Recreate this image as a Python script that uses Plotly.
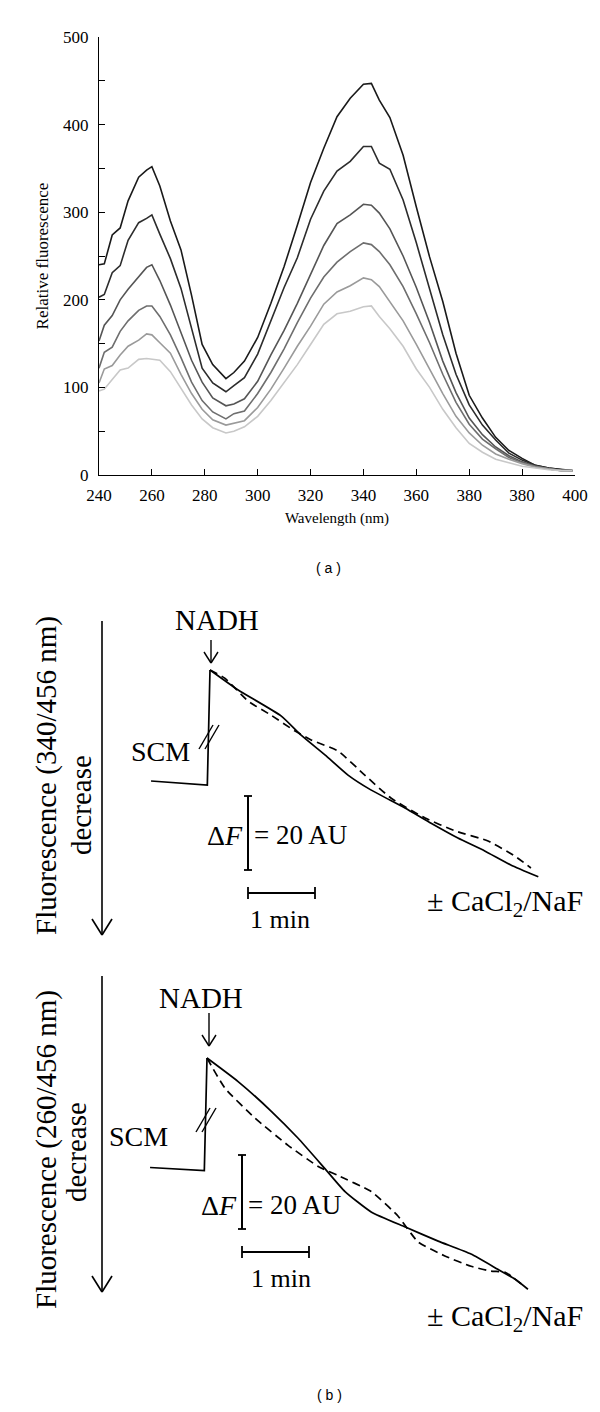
import plotly.graph_objects as go

W, H = 600, 1412
SERIF = "Liberation Serif, Times New Roman, serif"

# ---- (a) emission spectra ----
wavelength = [240, 242, 245, 248, 251, 255, 258, 260, 263, 267, 271, 275, 279, 283, 288, 291, 295,
              300, 305, 310, 315, 320, 325, 330, 335, 340, 343, 346, 350, 355, 360, 365, 370, 375,
              380, 385, 390, 395, 400, 405, 410, 415, 419]
spec_1 = [240, 241, 274, 282, 313, 340, 348, 352, 330, 290, 257, 205, 149, 126, 110, 117, 130, 157,
          196, 238, 285, 334, 373, 409, 430, 446, 447, 428, 408, 365, 306, 249, 198, 139, 91, 65,
          43, 28, 19, 11, 8, 6, 5]
spec_2 = [203, 206, 231, 239, 268, 288, 293, 297, 275, 247, 213, 166, 122, 105, 95, 102, 111, 138,
          176, 214, 248, 292, 324, 347, 358, 375, 375, 356, 349, 314, 265, 211, 160, 115, 80, 57,
          40, 25, 17, 11, 8, 6, 5]
spec_3 = [153, 171, 182, 200, 212, 226, 237, 240, 222, 194, 162, 131, 106, 88, 79, 81, 87, 107,
          137, 165, 196, 230, 262, 287, 297, 309, 308, 299, 281, 250, 214, 174, 130, 94, 65, 46,
          32, 22, 15, 10, 7, 5, 5]
spec_4 = [122, 140, 146, 164, 176, 188, 193, 193, 181, 160, 134, 106, 85, 72, 64, 70, 73, 93,
          117, 144, 174, 202, 226, 243, 255, 265, 263, 255, 240, 215, 184, 151, 115, 83, 58, 41,
          30, 20, 14, 10, 7, 5, 5]
spec_5 = [105, 121, 125, 137, 147, 154, 161, 160, 151, 139, 115, 93, 75, 63, 57, 59, 62, 77,
          98, 122, 147, 170, 195, 209, 216, 225, 223, 215, 198, 176, 149, 121, 93, 67, 48, 34,
          24, 18, 13, 9, 7, 5, 5]
spec_6 = [96, 98, 109, 120, 122, 132, 133, 132, 131, 118, 99, 80, 64, 54, 48, 50, 55, 67,
          85, 105, 126, 149, 172, 184, 187, 192, 193, 181, 167, 147, 121, 100, 75, 54, 36, 26,
          18, 14, 10, 8, 6, 5, 5]
x_tickvals = [240, 260, 280, 300, 320, 340, 360, 380, 400, 420]
x_ticktext = ["240", "260", "280", "300", "320", "340", "360", "380", "380", "400"]

# ---- (b) NADH traces: time (min) after NADH, fluorescence change (AU) ----
t_340_solid = [0, 0.42, 1.06, 1.36, 1.72, 2.06, 2.40, 2.91, 3.30, 3.70, 4.10, 4.49, 4.90]
f_340_solid = [0, -5.4, -12.4, -17.6, -23.0, -28.4, -32.4, -37.3, -41.4, -45.4, -48.9, -52.7, -55.9]
t_340_dash = [0, 0.22, 0.57, 0.91, 1.27, 1.51, 1.91, 2.31, 2.70, 3.21, 3.66, 4.15, 4.55, 4.79]
f_340_dash = [0, -2.2, -8.4, -12.2, -16.5, -18.9, -21.9, -28.4, -34.6, -40.0, -43.5, -46.2, -50.3, -53.5]
t_340_scm = [-0.88, -0.04, 0]
f_340_scm = [-30.0, -31.1, 0]

t_260_solid = [0, 0.46, 0.96, 1.36, 1.76, 2.06, 2.45, 2.96, 3.45, 3.94, 4.34, 4.60, 4.79]
f_260_solid = [0, -6.3, -14.4, -21.7, -29.9, -36.1, -41.6, -45.7, -49.5, -53.0, -57.1, -59.8, -62.5]
t_260_dash = [0, 0.27, 0.72, 1.21, 1.66, 1.96, 2.45, 2.85, 3.15, 3.55, 3.94, 4.24, 4.45, 4.72]
f_260_dash = [0, -8.2, -16.3, -23.6, -29.3, -31.8, -36.1, -42.7, -49.7, -53.5, -56.3, -57.6, -57.9, -61.5]
t_260_scm = [-0.85, -0.04, 0]
f_260_scm = [-29.6, -30.4, 0]

PX_MIN, PX_AU = 67, 3.7  # drawing scale of panel (b)


def px(c):
    return c / W


def py(r):
    return 1 - r / H


fig = go.Figure()

grays = ["#1a1a1a", "#2c2c2c", "#555555", "#6e6e6e", "#9a9a9a", "#c8c8c8"]
for vals, col in zip([spec_1, spec_2, spec_3, spec_4, spec_5, spec_6], grays):
    fig.add_trace(go.Scatter(x=wavelength, y=vals, mode="lines",
                             line=dict(color=col, width=1.6), xaxis="x", yaxis="y"))

# panel (b) sub-panels: (axis suffix, pixel origin of the NADH peak, pixel rows of domain, data)
subpanels = [
    ("2", (202, 662), (580, 960), t_340_solid, f_340_solid, t_340_dash, f_340_dash, t_340_scm, f_340_scm),
    ("3", (199, 1050), (960, 1340), t_260_solid, f_260_solid, t_260_dash, f_260_dash, t_260_scm, f_260_scm),
]
layout_axes = {}
for sfx, (ox, oy), (r0, r1), ts, fs, td, fd, tc, fc in subpanels:
    xa, ya = "x" + sfx, "y" + sfx
    fig.add_trace(go.Scatter(x=tc, y=fc, mode="lines", line=dict(color="black", width=1.7),
                             xaxis=xa, yaxis=ya))
    fig.add_trace(go.Scatter(x=ts, y=fs, mode="lines",
                             line=dict(color="black", width=1.7, shape="spline", smoothing=0.5),
                             xaxis=xa, yaxis=ya))
    fig.add_trace(go.Scatter(x=td, y=fd, mode="lines",
                             line=dict(color="black", width=1.7, dash="8px,5px",
                                       shape="spline", smoothing=0.5),
                             xaxis=xa, yaxis=ya))
    layout_axes["xaxis" + sfx] = dict(domain=[0, 1], range=[-ox / PX_MIN, (W - ox) / PX_MIN],
                                     visible=False, anchor=ya)
    layout_axes["yaxis" + sfx] = dict(domain=[py(r1), py(r0)],
                                     range=[-(r1 - oy) / PX_AU, (oy - r0) / PX_AU],
                                     visible=False, anchor=xa)

fig.update_layout(**layout_axes)

shapes = []
annotations = []


def seg(xref, yref, x0, y0, x1, y1, w=1.6):
    shapes.append(dict(type="line", xref=xref, yref=yref, x0=x0, y0=y0, x1=x1, y1=y1,
                       line=dict(color="black", width=w)))


def txt(x, y, text, size, xanchor="center", angle=0):
    annotations.append(dict(xref="paper", yref="paper", x=px(x), y=py(y), text=text,
                            showarrow=False, xanchor=xanchor, yanchor="middle", textangle=angle,
                            font=dict(family=SERIF, size=size, color="black")))


# decorations of panel (b), per sub-panel (pixel positions)
deco = [
    dict(sfx="2", ox=202, oy=662, slash_c=(201, 729), arrow_x=203, arrow=(632, 655),
         bar_x=240, bar=(788, 862), min_y=885, nadh=(209, 612), scm=(152, 743),
         df_y=827, min_txt=(272, 911), ca=(497, 895)),
    dict(sfx="3", ox=199, oy=1050, slash_c=(198, 1112), arrow_x=201, arrow=(1005, 1038),
         bar_x=234, bar=(1147, 1220), min_y=1244, nadh=(193, 990), scm=(130, 1128),
         df_y=1197, min_txt=(273, 1270), ca=(497, 1310)),
]
for d in deco:
    xr, yr = "x" + d["sfx"], "y" + d["sfx"]
    ox, oy = d["ox"], d["oy"]

    def T(c):
        return (c - ox) / PX_MIN

    def F(r):
        return -(r - oy) / PX_AU

    # break marks on the SCM step
    cx, cy = d["slash_c"]
    for off in (-3, 3):
        seg(xr, yr, T(cx + off - 7), F(cy + 12), T(cx + off + 7), F(cy - 12), 1.4)
    # NADH arrow
    ax = d["arrow_x"]
    a0, a1 = d["arrow"]
    seg(xr, yr, T(ax), F(a0), T(ax), F(a1), 1.4)
    seg(xr, yr, T(ax - 7), F(a1 - 11), T(ax), F(a1), 1.4)
    seg(xr, yr, T(ax + 7), F(a1 - 11), T(ax), F(a1), 1.4)
    # scale bars: 20 AU and 1 min
    bx = d["bar_x"]
    b0, b1 = d["bar"]
    seg(xr, yr, T(bx), F(b0), T(bx), F(b0) - 20, 2)
    seg(xr, yr, T(bx) - 0.06, F(b0), T(bx) + 0.06, F(b0), 1.8)
    seg(xr, yr, T(bx) - 0.06, F(b0) - 20, T(bx) + 0.06, F(b0) - 20, 1.8)
    my = F(d["min_y"])
    seg(xr, yr, T(bx), my, T(bx) + 1, my, 2)
    seg(xr, yr, T(bx), my - 1.6, T(bx), my + 1.6, 1.8)
    seg(xr, yr, T(bx) + 1, my - 1.6, T(bx) + 1, my + 1.6, 1.8)

    txt(d["nadh"][0], d["nadh"][1], "NADH", 29)
    txt(d["scm"][0], d["scm"][1], "SCM", 28)
    txt(bx - 3, d["df_y"], "Δ<i>F</i>", 28, xanchor="right")
    txt(bx + 4, d["df_y"], "= 20 AU", 27, xanchor="left")
    txt(d["min_txt"][0], d["min_txt"][1], "1 min", 26)
    txt(d["ca"][0], d["ca"][1], "± CaCl<sub>2</sub>/NaF", 30)

# big "decrease" arrows on the left
for top, tip in ((613, 927), (968, 1284)):
    seg("paper", "paper", px(94), py(top), px(94), py(tip), 1.6)
    seg("paper", "paper", px(84), py(tip - 16), px(94), py(tip), 1.6)
    seg("paper", "paper", px(104), py(tip - 16), px(94), py(tip), 1.6)

txt(38, 768, "Fluorescence (340/456 nm)", 29, angle=-90)
txt(73, 797, "decrease", 29, angle=-90)
txt(38, 1142, "Fluorescence (260/456 nm)", 29, angle=-90)
txt(68, 1144, "decrease", 29, angle=-90)

annotations.append(dict(xref="paper", yref="paper", x=px(320), y=py(560), text="( a )",
                        showarrow=False, font=dict(family="Liberation Sans, Arial", size=14, color="black")))
annotations.append(dict(xref="paper", yref="paper", x=px(321), y=py(1397), text="( b )",
                        showarrow=False, font=dict(family="Liberation Sans, Arial", size=14, color="black")))

fig.update_layout(
    width=W, height=H,
    margin=dict(l=0, r=0, t=0, b=0, autoexpand=False),
    paper_bgcolor="white", plot_bgcolor="white",
    showlegend=False,
    xaxis=dict(domain=[px(91), px(567)], range=[240, 420], anchor="y", automargin=False,
               showline=True, linecolor="black", linewidth=1.2, ticks="inside", ticklen=6,
               tickcolor="black", tickvals=x_tickvals, ticktext=x_ticktext,
               ticklabelstandoff=4,
               tickfont=dict(family=SERIF, size=17, color="black"),
               showgrid=False, zeroline=False,
               title=dict(text="Wavelength (nm)", font=dict(family=SERIF, size=15, color="black"),
                          standoff=8)),
    yaxis=dict(domain=[py(467), py(29)], range=[0, 500], anchor="x", automargin=False,
               showline=True, linecolor="black", linewidth=1.2, ticks="inside", ticklen=6,
               tickcolor="black", dtick=100, ticklabelstandoff=6,
               minor=dict(ticks="inside", dtick=50, ticklen=6, tickcolor="black"),
               tickfont=dict(family=SERIF, size=17, color="black"),
               showgrid=False, zeroline=False,
               title=dict(text="Relative fluorescence", font=dict(family=SERIF, size=17, color="black"),
                          standoff=10)),
    shapes=shapes,
    annotations=annotations,
)

fig.write_html("out.html")
